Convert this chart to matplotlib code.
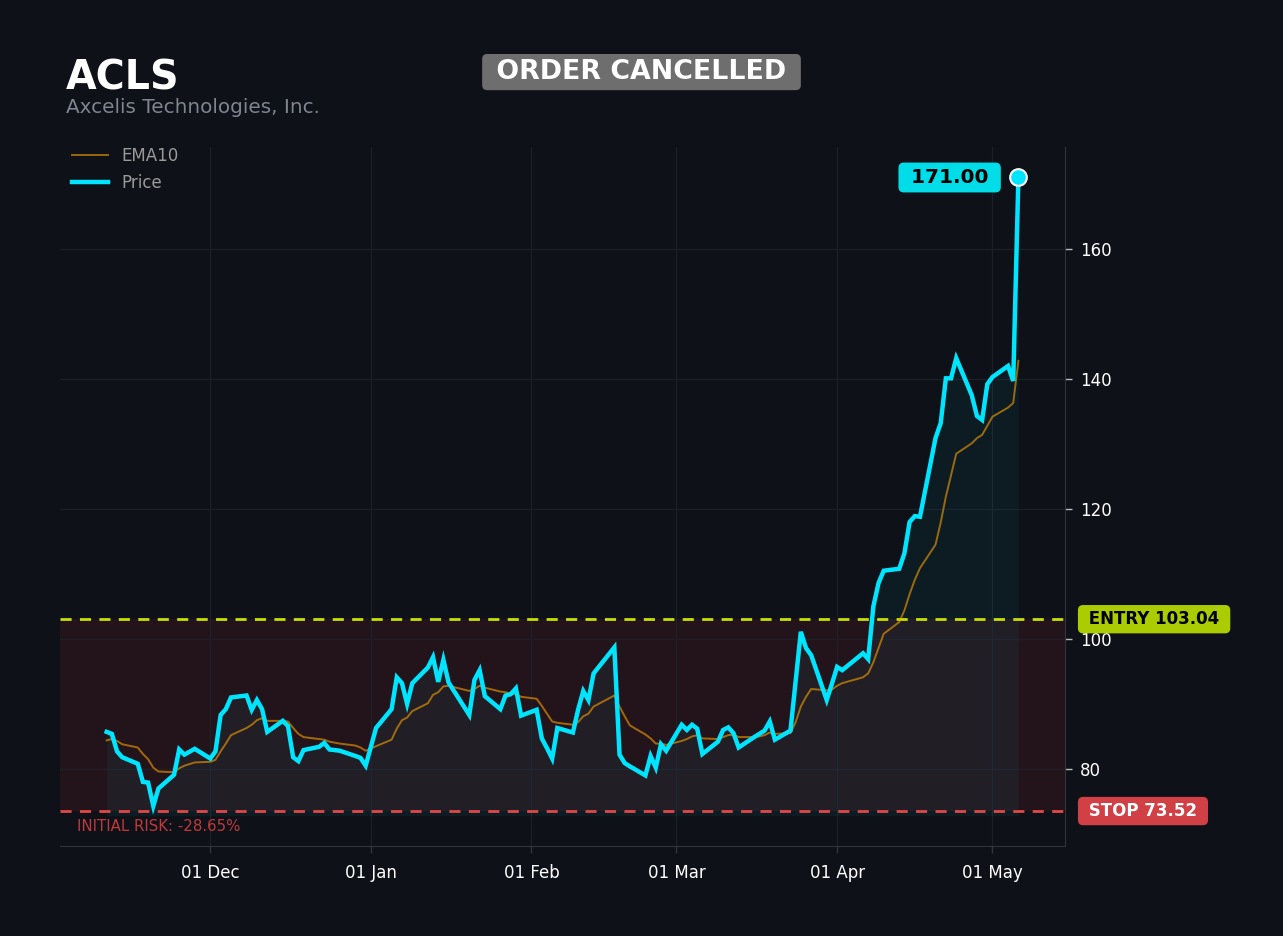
"""
ACLS trade card: price vs EMA10 with entry / stop levels.
"""

import pandas as pd
import matplotlib
matplotlib.use('Agg')
import matplotlib.pyplot as plt
import matplotlib.dates as mdates
import matplotlib.transforms as mtransforms

# --- data ---------------------------------------------------------------
TICKER = 'ACLS'
COMPANY = 'Axcelis Technologies, Inc.'
STATUS = 'ORDER CANCELLED'
ENTRY = 103.04
STOP = 73.52
RISK_PCT = -28.65

HOLIDAYS = ['2025-11-27', '2025-12-25', '2026-01-01', '2026-01-19',
            '2026-02-16', '2026-04-03']
dates = pd.bdate_range('2025-11-11', '2026-05-06', freq='C', holidays=HOLIDAYS)

price = [
    85.7, 85.4, 82.7, 81.8,                 # Nov 11
    80.8, 78.0, 77.9, 74.3, 77.0,           # Nov 17
    79.1, 83.0, 82.2, 83.1,                 # Nov 24
    81.6, 82.7, 88.3, 89.2, 91.0,           # Dec 1
    91.3, 89.1, 90.6, 89.2, 85.7,           # Dec 8
    87.4, 86.6, 81.8, 81.2, 82.9,           # Dec 15
    83.4, 84.0, 83.0, 82.8,                 # Dec 22
    82.0, 81.7, 80.5, 86.3,                 # Dec 29
    89.2, 94.1, 93.2, 90.0, 93.2,           # Jan 5
    95.6, 97.2, 93.4, 96.8, 93.3,           # Jan 12
    88.3, 93.7, 95.2, 91.2,                 # Jan 20
    89.2, 91.3, 91.5, 92.4, 88.2,           # Jan 26
    89.1, 84.7, 83.2, 81.6, 86.3,           # Feb 2
    85.6, 89.1, 92.0, 90.6, 94.7,           # Feb 9
    98.7, 82.2, 80.9, 80.4,                 # Feb 17
    79.0, 82.0, 80.2, 83.8, 82.8,           # Feb 23
    86.8, 86.0, 86.8, 86.2, 82.3,           # Mar 2
    84.2, 86.0, 86.4, 85.5, 83.3,           # Mar 9
    84.9, 85.4, 85.9, 87.3, 84.5,           # Mar 16
    85.9, 93.5, 101.1, 98.6, 97.5,          # Mar 23
    90.6, 93.1, 95.7, 95.2,                 # Mar 30
    97.8, 96.9, 105.0, 108.6, 110.5,        # Apr 6
    110.8, 113.2, 118.0, 118.9, 118.8,      # Apr 13
    130.9, 133.2, 140.1, 140.1, 143.2,      # Apr 20
    137.5, 134.3, 133.7, 139.2, 140.3,      # Apr 27
    142.0, 139.7, 171.0,                    # May 4
]

ema10 = [
    84.4, 84.6, 84.3, 83.8,
    83.3, 82.3, 81.5, 80.2, 79.6,
    79.5, 80.1, 80.5, 81.0,
    81.1, 81.4, 82.7, 83.9, 85.2,
    86.3, 86.8, 87.5, 87.8, 87.4,
    87.4, 87.3, 86.3, 85.4, 84.9,
    84.6, 84.5, 84.2, 83.9,
    83.6, 83.3, 82.8, 83.5,
    84.5, 86.2, 87.5, 87.9, 88.9,
    90.1, 91.4, 91.8, 92.7, 92.8,
    92.0, 92.3, 92.8, 92.5,
    91.9, 91.8, 91.6, 91.5, 91.1,
    90.8, 89.7, 88.5, 87.3, 87.1,
    86.8, 87.2, 88.1, 88.5, 89.6,
    91.3, 89.6, 88.1, 86.7,
    85.3, 84.7, 83.9, 83.9, 83.7,
    84.3, 84.6, 85.0, 85.2, 84.7,
    84.6, 84.9, 85.2, 85.3, 84.9,
    84.9, 85.0, 85.2, 85.6, 85.4,
    85.5, 87.2, 89.6, 91.1, 92.3,
    92.1, 92.2, 92.8, 93.2,
    94.1, 94.7, 96.4, 98.6, 100.8,
    102.6, 104.4, 106.9, 109.1, 110.9,
    114.5, 117.9, 121.9, 125.2, 128.5,
    130.1, 130.9, 131.4, 132.8, 134.2,
    135.6, 136.3, 142.8,
]

# --- style --------------------------------------------------------------
BG = '#0e1118'
CYAN = '#00e5ff'
GRID = '#1d2027'
SPINE = '#30343c'

plt.rcParams['font.family'] = ['DejaVu Sans']

fig = plt.figure(figsize=(12.83, 9.36), dpi=100, facecolor=BG)
ax = fig.add_axes([0.0468, 0.0962, 0.7833, 0.7468], facecolor=BG)

# risk zone between stop and entry
ax.axhspan(STOP, ENTRY, color='#e0383c', alpha=0.10, lw=0, zorder=0)

# price area + lines
ax.fill_between(dates, price, 72.8, color=CYAN, alpha=0.05, lw=0, zorder=1)
ax.plot(dates, ema10, color='#ffa500', alpha=0.58, lw=1.4, label='EMA10', zorder=3)
ax.plot(dates, price, color=CYAN, lw=3.2, label='Price', zorder=4,
        solid_joinstyle='miter')

ax.axhline(ENTRY, color='#c8e000', lw=2, ls=(0, (4, 3)), zorder=2)
ax.axhline(STOP, color='#e04848', lw=2, ls=(0, (4, 3)), zorder=2)

# last price marker and tag
ax.plot(dates[-1], price[-1], 'o', ms=12, color=CYAN, mec='white', mew=1.5, zorder=6)
ax.annotate(f' {price[-1]:.2f} ', xy=(dates[-1], price[-1]), xytext=(-23, 0),
            textcoords='offset pixels', ha='right', va='center',
            fontsize=14.5, fontweight='bold', color='black',
            bbox=dict(boxstyle='round,pad=0.27', fc='#00dde8', ec='none'), zorder=7)

# right-side level tags
trans = mtransforms.blended_transform_factory(ax.transAxes, ax.transData)
ax.text(1.0180, ENTRY, f' ENTRY {ENTRY:.2f} ', transform=trans, ha='left', va='center',
        fontsize=12, fontweight='bold', color='black', clip_on=False,
        bbox=dict(boxstyle='round,pad=0.31', fc='#aacc00', ec='none'))
ax.text(1.0180, STOP, f' STOP {STOP:.2f} ', transform=trans, ha='left', va='center',
        fontsize=12, fontweight='bold', color='white', clip_on=False,
        bbox=dict(boxstyle='round,pad=0.31', fc='#d04044', ec='none'))
ax.text(0.017, 71.2, f'INITIAL RISK: {RISK_PCT:.2f}%', transform=trans,
        ha='left', va='center', fontsize=10.8, color='#c0393b')

# axes
ax.set_xlim(pd.Timestamp('2025-11-02'), pd.Timestamp('2026-05-15'))
ax.set_ylim(68.15, 175.7)
ax.xaxis.set_major_locator(mdates.MonthLocator())
ax.xaxis.set_major_formatter(mdates.DateFormatter('%d %b'))
ax.yaxis.tick_right()
ax.set_yticks([80, 100, 120, 140, 160])
ax.tick_params(colors='white', labelsize=12, length=5, width=1)
ax.tick_params(axis='x', colors=SPINE, labelcolor='white', pad=8)
ax.tick_params(axis='y', colors='#bbbbbb', labelcolor='white', pad=6)
ax.grid(True, color=GRID, lw=0.9)
ax.set_axisbelow(True)
for side in ('top', 'left'):
    ax.spines[side].set_visible(False)
for side in ('bottom', 'right'):
    ax.spines[side].set_color(SPINE)

ax.legend(loc='upper left', bbox_to_anchor=(0.005, 1.010), borderaxespad=0,
          frameon=False, fontsize=12, labelcolor='#9a9a9a',
          handlelength=2.2, labelspacing=0.55)

# header
fig.text(0.0514, 0.904, TICKER, fontsize=28.5, fontweight='bold', color='white')
fig.text(0.0514, 0.879, COMPANY, fontsize=14.4, color='#7f858e')
fig.text(0.5, 0.923, f' {STATUS} ', ha='center', va='center', fontsize=19.3,
         fontweight='bold', color='white',
         bbox=dict(boxstyle='round,pad=0.19', fc='#6e6e6e', ec='none'))

fig.savefig('out.png', dpi=100, facecolor=BG)
